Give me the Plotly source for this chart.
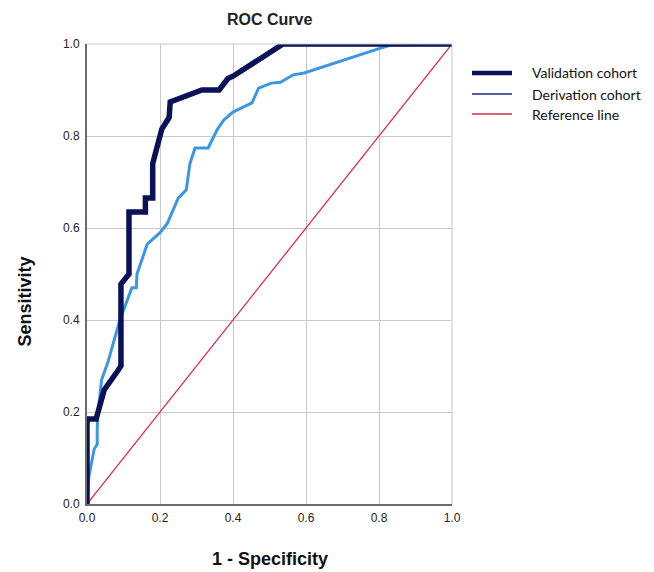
import plotly.graph_objects as go

# Validation cohort ROC (1 - specificity, sensitivity)
val_fpr = [0, 0, 0.025, 0.047, 0.082, 0.093, 0.093, 0.115, 0.115, 0.16, 0.16, 0.18, 0.18,
           0.195, 0.205, 0.225, 0.228, 0.315, 0.362, 0.386, 0.40, 0.537, 1.0]
val_tpr = [0, 0.185, 0.185, 0.248, 0.287, 0.30, 0.478, 0.50, 0.635, 0.635, 0.665, 0.665, 0.74,
           0.78, 0.815, 0.84, 0.874, 0.90, 0.90, 0.925, 0.93, 1.0, 1.0]

# Derivation cohort ROC
der_fpr = [0, 0.005, 0.02, 0.028, 0.028, 0.03, 0.04, 0.052, 0.058, 0.09, 0.123, 0.135, 0.137,
           0.165, 0.2, 0.22, 0.25, 0.272, 0.282, 0.296, 0.332, 0.356, 0.375, 0.4, 0.452,
           0.47, 0.505, 0.53, 0.565, 0.595, 0.70, 0.80, 0.835, 1.0]
der_tpr = [0, 0.06, 0.12, 0.13, 0.165, 0.20, 0.27, 0.30, 0.31, 0.40, 0.47, 0.47, 0.50,
           0.565, 0.59, 0.61, 0.665, 0.683, 0.74, 0.774, 0.774, 0.813, 0.835, 0.852, 0.872,
           0.904, 0.915, 0.917, 0.933, 0.937, 0.965, 0.99, 0.998, 1.0]

ref_x = [0, 1]
ref_y = [0, 1]

tick_vals = [0.0, 0.2, 0.4, 0.6, 0.8, 1.0]
tick_text = ["0.0", "0.2", "0.4", "0.6", "0.8", "1.0"]

legend_names = ["Validation cohort", "Derivation cohort", "Reference line"]
legend_colors = ["#0b1157", "#1b2a8a", "#d42a4c"]
legend_widths = [4.5, 1.5, 1.5]

NAVY = "#0b1157"
LIGHT = "#3b97e2"
RED = "#de2a55"

# page offset (body margin) compensation
OFF = 8
FIG_W, FIG_H = 654 - OFF, 572 - OFF
L, T = 87 - OFF, 44 - OFF
PW, PH = 365, 460
R, B = FIG_W - L - PW, FIG_H - T - PH

fig = go.Figure()
fig.add_trace(go.Scatter(x=ref_x, y=ref_y, mode="lines",
                         line=dict(color=RED, width=1.3), showlegend=False))
fig.add_trace(go.Scatter(x=der_fpr, y=der_tpr, mode="lines",
                         line=dict(color=LIGHT, width=3), showlegend=False))
fig.add_trace(go.Scatter(x=val_fpr, y=val_tpr, mode="lines",
                         line=dict(color=NAVY, width=5.5), showlegend=False))

fig.update_layout(
    width=FIG_W, height=FIG_H,
    margin=dict(l=L, r=R, t=T, b=B),
    paper_bgcolor="white", plot_bgcolor="white",
    font=dict(family="Liberation Sans, Arial, sans-serif", color="#222222", size=12),
    showlegend=False,
)
axis_common = dict(
    range=[0, 1], tickvals=tick_vals, ticktext=tick_text,
    showgrid=True, gridcolor="#c8c8c8", gridwidth=1,
    zeroline=False, ticks="", fixedrange=True,
    tickfont=dict(size=12, color="#222222"),
)
fig.update_xaxes(**axis_common, showline=True, linecolor="#6a6a6a", linewidth=2,
                 mirror=False, ticklabelstandoff=2)
fig.update_yaxes(**axis_common, showline=True, linecolor="#6a6a6a", linewidth=2,
                 mirror=False, ticklabelstandoff=3)

# frame at top/right (light grid border)
fig.add_shape(type="line", xref="paper", yref="paper", x0=0, x1=1, y0=1, y1=1,
              line=dict(color="#c8c8c8", width=1))
fig.add_shape(type="line", xref="paper", yref="paper", x0=1, x1=1, y0=0, y1=1,
              line=dict(color="#c8c8c8", width=1))

# Titles
fig.add_annotation(text="<b>ROC Curve</b>", xref="paper", yref="paper", x=0.5, y=1,
                   yshift=14, yanchor="bottom", showarrow=False,
                   font=dict(size=16, color="#222222", family="Liberation Sans, Arial"))
fig.add_annotation(text="<b>Sensitivity</b>", xref="paper", yref="paper", x=0, y=0.44,
                   xshift=-62, textangle=-90, showarrow=False, xanchor="center",
                   font=dict(size=18, color="#111111", family="Liberation Sans, Arial"))
fig.add_annotation(text="<b>1 - Specificity</b>", xref="paper", yref="paper", x=0.5, y=0,
                   yshift=-55, yanchor="middle", showarrow=False,
                   font=dict(size=18, color="#111111", family="Liberation Sans, Arial"))

# Manual legend (screen pixel positions converted to paper coords)
def px_to_paper_x(px):
    return (px - OFF - L) / PW
def py_to_paper_y(py):
    return (T + PH - (py - OFF)) / PH

legend_rows = [73, 94, 114]
for name, col, w, row in zip(legend_names, legend_colors, legend_widths, legend_rows):
    fig.add_shape(type="line", xref="paper", yref="paper",
                  x0=px_to_paper_x(472), x1=px_to_paper_x(512),
                  y0=py_to_paper_y(row), y1=py_to_paper_y(row),
                  line=dict(color=col, width=w))
    fig.add_annotation(text=name, xref="paper", yref="paper",
                       x=px_to_paper_x(530), y=py_to_paper_y(row),
                       xanchor="left", yanchor="middle", showarrow=False,
                       font=dict(size=14, color="#111111", family="Lato, sans-serif"))

fig.write_html("out.html")
